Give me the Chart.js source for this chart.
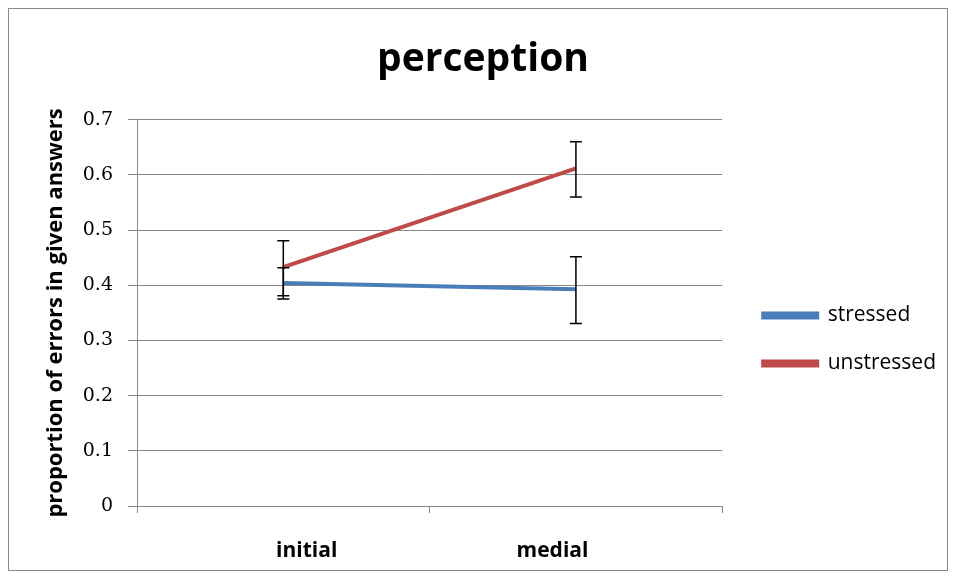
<!DOCTYPE html>
<html>
<head>
<meta charset="utf-8">
<script src="https://cdn.jsdelivr.net/npm/chart.js@4.4.0/dist/chart.umd.min.js"></script>
<style>
  html, body { margin: 0; padding: 0; background: #fff; }
  #box { position: absolute; left: 8px; top: 8px; width: 938px; height: 561px; border: 1px solid #8a8a8a; }
</style>
</head>
<body>
<div id="box"><canvas id="chart" width="938" height="561"></canvas></div>
<script>
// data
const categories = ["initial", "medial"];
const stressed = [0.404, 0.393];
const unstressed = [0.433, 0.612];
const stressedErr = [[0.375, 0.432], [0.331, 0.452]];
const unstressedErr = [[0.381, 0.481], [0.560, 0.660]];
const yTicks = [0, 0.1, 0.2, 0.3, 0.4, 0.5, 0.6, 0.7];

// error bars drawn on top of the lines
const errorBars = {
    id: 'errorBars',
    afterDatasetsDraw(chart) {
        const ctx = chart.ctx;
        const x = chart.scales.x, y = chart.scales.y;
        const all = [stressedErr, unstressedErr];
        ctx.save();
        ctx.strokeStyle = '#000';
        ctx.lineWidth = 1.5;
        all.forEach(errs => {
            errs.forEach((e, i) => {
                const px = x.getPixelForValue(i);
                const lo = y.getPixelForValue(e[0]);
                const hi = y.getPixelForValue(e[1]);
                ctx.beginPath();
                ctx.moveTo(px, lo); ctx.lineTo(px, hi);
                ctx.moveTo(px - 6, lo); ctx.lineTo(px + 6, lo);
                ctx.moveTo(px - 6, hi); ctx.lineTo(px + 6, hi);
                ctx.stroke();
            });
        });
        ctx.restore();
    }
};

// category labels sit a bit toward the middle of the axis, like the original
const catLabels = {
    id: 'catLabels',
    afterDraw(chart) {
        const ctx = chart.ctx;
        const x = chart.scales.x;
        const mid = (x.left + x.right) / 2;
        ctx.save();
        ctx.font = 'bold 21px "Open Sans"';
        ctx.fillStyle = '#000';
        ctx.textAlign = 'center';
        ctx.textBaseline = 'alphabetic';
        categories.forEach((c, i) => {
            const px = x.getPixelForValue(i);
            ctx.fillText(c, px + (mid - px) * 0.16, x.top + 51);
        });
        ctx.restore();
    }
};

// nudge the legend to the right and down
const legendShift = {
    id: 'legendShift',
    afterLayout(chart) {
        const lg = chart.legend;
        lg.left += 14; lg.right += 24;
        lg.top += 45; lg.bottom += 45;
    }
};

new Chart(document.getElementById('chart'), {
    type: 'line',
    data: {
        labels: categories,
        datasets: [
            { label: 'stressed', data: stressed, borderColor: '#4a7ebb', backgroundColor: '#4a7ebb', borderWidth: 4, pointRadius: 0 },
            { label: 'unstressed', data: unstressed, borderColor: '#be4b48', backgroundColor: '#be4b48', borderWidth: 4, pointRadius: 0 }
        ]
    },
    options: {
        responsive: false,
        animation: false,
        layout: { padding: { left: 25, top: 10, right: 15, bottom: 0 } },
        plugins: {
            title: {
                display: true,
                text: 'perception',
                font: { family: 'Open Sans', size: 39, weight: 'bold' },
                color: '#000',
                padding: { top: 17, bottom: 37 }
            },
            legend: {
                position: 'right',
                labels: {
                    boxWidth: 54,
                    boxHeight: 4,
                    padding: 27,
                    color: '#000',
                    font: { family: 'Open Sans', size: 21 }
                }
            },
            tooltip: { enabled: false }
        },
        scales: {
            x: {
                offset: true,
                afterFit: s => { s.height = 64; },
                grid: { offset: true, drawOnChartArea: false, color: '#888', tickLength: 7 },
                border: { color: '#888' },
                ticks: { display: false }
            },
            y: {
                min: 0,
                max: 0.7,
                afterFit: s => { s.width = 103; },
                afterBuildTicks: s => { s.ticks = yTicks.map(v => ({ value: v })); },
                grid: { color: '#888', tickLength: 9 },
                border: { color: '#888' },
                ticks: { color: '#000', font: { family: 'DejaVu Serif', size: 19 }, padding: 15,
                         callback: v => String(Math.round(v * 10) / 10) },
                title: {
                    display: true,
                    text: 'proportion of errors in given answers',
                    color: '#000',
                    font: { family: 'Open Sans', size: 22, weight: 'bold' },
                    padding: { top: 9, bottom: 0 }
                }
            }
        }
    },
    plugins: [errorBars, catLabels, legendShift]
});
</script>
</body>
</html>
